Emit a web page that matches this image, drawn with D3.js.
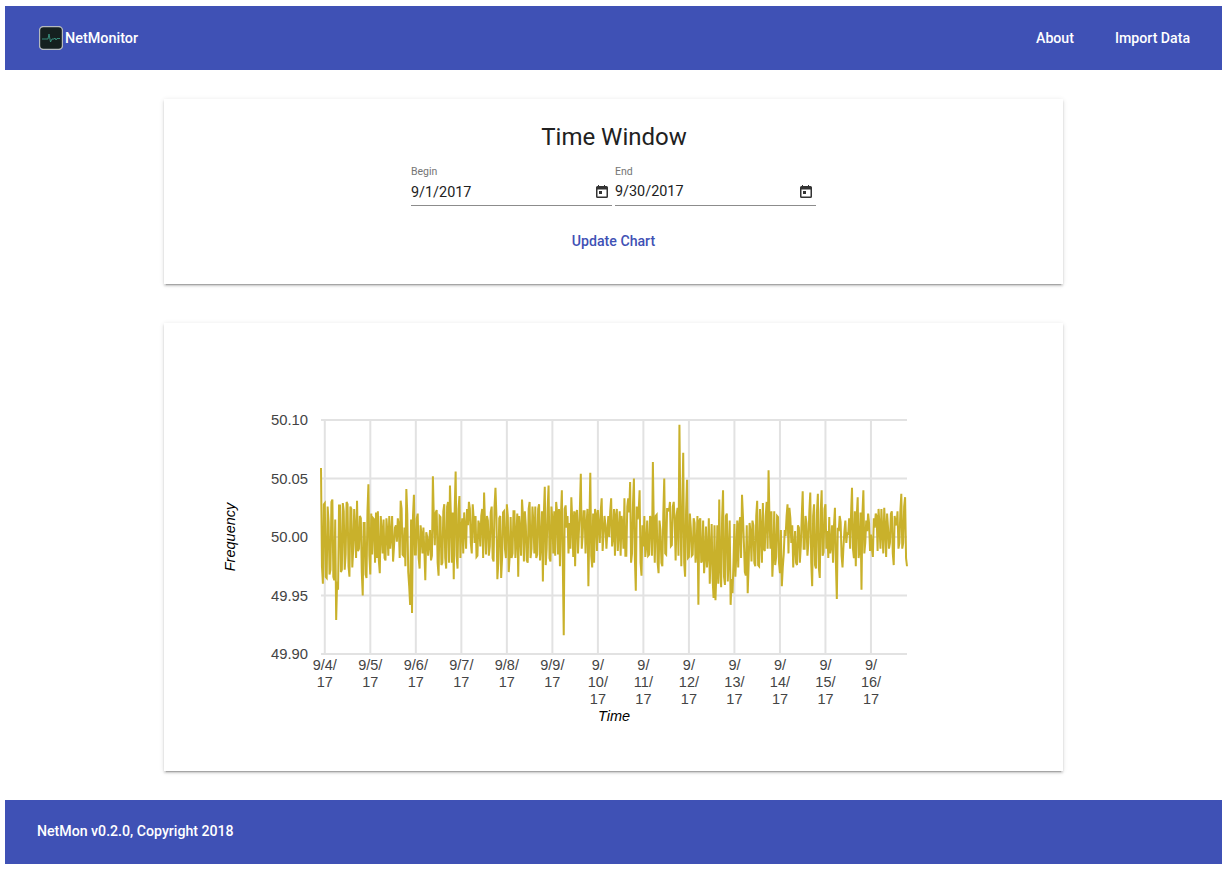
<!DOCTYPE html>
<html>
<head>
<meta charset="utf-8">
<title>NetMonitor</title>
<script src="https://cdn.jsdelivr.net/npm/d3@7"></script>
<style>
html, body { margin: 0; padding: 0; background: #fff; }
body { width: 1227px; height: 875px; position: relative; overflow: hidden; font-family: Roboto, sans-serif; }
.bar { position: absolute; left: 5px; width: 1217px; height: 64px; background: #3f51b5; color: #fff; font-weight: 500; font-size: 14.15px; }
.bar span { position: absolute; line-height: 20px; white-space: nowrap; }
.card { position: absolute; left: 164px; width: 899px; background: #fff;
  box-shadow: 0 2px 2px 0 rgba(0,0,0,.14), 0 3px 1px -2px rgba(0,0,0,.2), 0 1px 5px 0 rgba(0,0,0,.12); }
.title { position: absolute; left: 0.5px; width: 100%; top: 23px; text-align: center; font-size: 24px; line-height: 30px; color: #212121; }
.lbl { position: absolute; top: 67px; font-size: 10.5px; line-height: 12px; color: #757575; }
.val { position: absolute; font-size: 14.4px; line-height: 20px; color: #212121; }
.rule { position: absolute; top: 106px; width: 201px; height: 1px; background: #8c8c8c; }
.cal { position: absolute; top: 86px; }
.btn { position: absolute; left: 0; width: 100%; top: 132px; text-align: center; font-size: 14.15px; font-weight: 500; line-height: 20px; color: #3f51b5; }
.grid line, .grid path { stroke: #e2e2e2; stroke-width: 2px; }
.axis text { font-family: "Liberation Sans", Arial, sans-serif; font-size: 14.5px; fill: #444; }
.y-axis text { font-size: 14.8px; }
.axis-title { font-family: "Liberation Sans", Arial, sans-serif; font-size: 14.5px; font-style: italic; fill: #000; }
</style>
</head>
<body>
<div class="bar" style="top:6px">
  <svg id="logo" width="24" height="24" style="position:absolute;left:34px;top:20px"></svg>
  <span style="left:60px;top:23px;font-size:14.4px">NetMonitor</span>
  <span style="left:1031px;top:22px">About</span>
  <span style="left:1110px;top:22px">Import Data</span>
</div>
<div class="card" style="top:99px;height:185px">
  <div class="title">Time Window</div>
  <div class="lbl" style="left:247px">Begin</div>
  <div class="val" style="left:247px;top:84px">9/1/2017</div>
  <svg class="cal" style="left:431px" width="14" height="14"></svg>
  <div class="rule" style="left:247px"></div>
  <div class="lbl" style="left:451px">End</div>
  <div class="val" style="left:451px;top:83px">9/30/2017</div>
  <svg class="cal" style="left:635px" width="14" height="14"></svg>
  <div class="rule" style="left:451px"></div>
  <div class="btn">Update Chart</div>
</div>
<div class="card" style="top:323px;height:448px"></div>
<div class="bar" style="top:800px">
  <span style="left:32px;top:21px">NetMon v0.2.0, Copyright 2018</span>
</div>
<svg id="chart" width="1227" height="875" style="position:absolute;left:0;top:0"></svg>
<script>
// frequency on the hour, starting 9/3/17 22:00
var freqA = [
  50.059,49.960,50.029,49.965,50.013,49.972,50.032,49.963,49.929,49.955,
  50.027,49.972,50.022,49.985,50.028,49.966,50.024,49.990,50.005,50.031,
  49.990,50.016,49.950,50.012,49.965,50.045,49.968,49.985,50.015,50.021,
  50.022,49.969,50.005,50.015,49.980,50.004,50.018,50.002,49.979,50.008,
  49.996,50.010,50.031,49.985,50.008,50.041,49.970,49.942,49.935,50.036,
  49.985,50.020,49.973,50.002,50.008,49.963,50.000,49.995,49.980,50.052,
  49.993,50.023,49.967,50.017,49.978,50.028,49.973,50.030,50.044,49.978,
  49.964,50.056,49.973,50.035,50.008,49.986,50.008,50.024,50.030,49.995,
  50.028,49.995,49.983,50.014,49.992,50.024,50.038,49.985,50.014,49.992,
  50.026,49.979,50.042,49.964,50.016,49.965,50.021,49.990,50.028,49.970
];
var freqB = [
  50.017,49.986,50.022,50.000,49.966,50.005,50.032,49.979,50.010,49.978,
  50.030,49.990,50.012,50.026,49.985,50.028,49.995,49.962,50.043,49.990,
  50.044,49.979,50.015,50.022,50.030,49.985,49.975,50.040,49.916,50.027,
  50.018,50.012,50.034,49.983,49.975,50.023,50.005,50.054,50.002,50.022,
  50.010,49.958,50.055,49.974,49.978,50.019,50.023,49.995,50.033,50.003,
  50.010,50.005,50.000,50.033,50.000,49.984,50.024,50.005,49.984,50.010,
  50.033,49.984,50.033,50.047,49.986,50.050,49.954,50.015,50.040,49.967,
  49.992,49.983,50.014,49.985,50.015,50.064,49.978,50.019,49.969,50.006,
  49.975,50.050,49.985,50.024,50.030,49.993,50.030,49.980,50.025,50.096,
  49.975,50.072,49.966,50.049,49.983,50.008,49.985,50.012,49.990,49.942
];
var freqC = [
  50.016,49.980,49.969,50.009,49.985,49.960,50.011,49.948,49.946,50.010,
  50.032,49.957,50.040,49.959,50.020,49.985,49.942,49.952,50.011,49.985,
  49.974,50.017,50.036,49.995,49.967,49.952,50.012,49.979,50.010,49.975,
  50.031,49.975,50.005,50.029,49.988,50.030,50.057,49.990,49.966,50.022,
  49.983,50.017,49.969,49.958,49.985,50.001,50.028,50.025,49.995,49.974,
  50.005,49.976,50.008,49.992,50.039,49.990,50.012,49.995,50.038,49.958,
  50.028,49.973,50.037,49.965,50.040,49.987,50.028,50.005,50.017,49.992,
  49.978,50.025,49.947,50.005,50.013,49.974,50.005,49.995,50.002,49.990,
  50.042,49.982,49.975,50.034,49.990,49.955,50.040,49.995,50.005,50.012,
  50.002,49.983,50.008,50.018,50.024,49.990,50.005,50.025,49.983,50.008,
  49.995,50.022,49.976,50.012,50.022,49.995,50.037,49.995,50.034,49.975
];
// readings on the half hour, these fill up the solid band of the trace
var halfA = [
  49.975,50.028,49.966,50.026,49.968,50.030,49.966,50.015,49.962,50.027,
  49.970,50.029,49.972,50.030,49.975,50.026,49.974,50.024,49.982,49.988,
  50.018,49.970,50.012,49.968,50.022,49.984,50.020,50.016,49.978,49.982,
  49.980,50.018,49.986,49.982,50.016,49.984,49.990,50.018,49.992,50.010,
  50.016,49.982,50.024,49.984,49.975,50.020,49.958,50.015,50.018,49.985,
  50.016,49.982,50.010,49.986,49.988,50.004,49.984,50.006,49.984,50.016,
  50.021,49.978,50.018,49.976,50.022,49.982,50.026,49.978,50.018,50.021,
  50.024,49.984,50.024,49.982,50.016,50.021,49.990,50.010,50.024,49.986,
  50.016,50.018,49.984,50.010,50.018,49.982,50.010,50.018,49.984,50.021,
  49.982,50.026,50.018,49.978,50.018,49.982,50.022,49.982,50.018,49.984
];
var halfB = [
  49.982,50.022,49.982,50.020,50.018,49.984,50.018,50.022,49.980,50.024,
  49.982,50.026,49.986,49.982,50.024,49.980,50.022,50.020,49.976,50.024,
  49.982,50.026,49.986,49.984,50.021,50.024,50.018,49.978,50.024,50.008,
  49.986,49.990,50.014,50.022,50.020,49.986,50.024,49.990,50.022,49.986,
  50.024,50.010,49.984,50.020,50.024,49.988,50.010,50.022,49.988,50.018,
  49.990,50.018,50.022,49.992,50.024,50.018,49.988,50.022,50.018,49.990,
  49.984,50.026,50.021,49.978,50.028,49.982,50.026,50.022,49.978,50.010,
  50.018,49.992,49.984,50.018,49.984,50.008,50.018,49.978,50.014,49.978,
  50.020,49.986,50.024,50.022,49.992,50.026,50.014,50.018,49.984,50.021,
  50.024,49.978,50.022,49.982,50.020,49.984,50.016,49.978,50.018,50.014
];
var halfC = [
  49.978,50.014,49.984,49.974,50.016,49.988,49.964,50.010,49.970,49.960,
  49.974,50.016,49.966,50.018,49.962,50.014,49.964,49.978,49.966,50.014,
  50.010,49.982,50.018,49.970,50.010,49.976,50.004,50.014,49.978,50.018,
  49.976,50.024,49.978,49.990,50.018,49.990,50.014,50.022,49.984,49.976,
  50.018,49.978,50.006,49.974,50.006,50.018,49.986,50.016,50.010,49.992,
  49.978,50.010,49.978,50.018,49.990,50.018,49.984,50.022,49.978,50.018,
  49.976,50.021,49.974,50.022,49.984,50.024,49.990,49.982,49.986,50.010,
  50.010,49.978,50.008,50.018,49.984,49.992,50.014,50.004,50.016,50.020,
  49.990,50.022,50.018,49.982,50.021,50.020,49.986,50.014,50.020,49.988,
  49.990,50.016,50.020,49.988,50.010,50.024,49.986,50.008,50.020,49.990,
  50.020,49.986,50.018,50.010,49.990,50.022,49.990,50.026,49.982
];
var freqHourly = freqA.concat(freqB, freqC);
var freqHalfHour = halfA.concat(halfB, halfC);
var firstHour = new Date(2017, 8, 3, 22);
var tickDays = [4,5,6,7,8,9,10,11,12,13,14,15,16];
var yTicks = [49.90, 49.95, 50.00, 50.05, 50.10];

var margin = {top: 420, left: 321},
    width = 586,
    height = 234;

var data = [];
freqHourly.forEach(function(v, i){
    data.push({time: d3.timeMinute.offset(firstHour, i * 60), freq: v});
    if (i < freqHalfHour.length){
        data.push({time: d3.timeMinute.offset(firstHour, i * 60 + 30), freq: freqHalfHour[i]});
    }
});

var xScale = d3.scaleTime()
    .range([0, width])
    .domain(d3.extent(data, d=>d.time));
var yScale = d3.scaleLinear()
    .range([height, 0])
    .domain([49.90, 50.10]);

var svg = d3.select("#chart");
var svg_g = svg.append("g")
    .attr("transform", "translate(" + margin.left + "," + margin.top + ")");

//-GRID--------------------------------------------------------------------//
var xTicks = tickDays.map(d=>new Date(2017, 8, d));
var grid = svg_g.append("g").attr("class", "grid");
grid.selectAll("line.h").data(yTicks).enter().append("line")
    .attr("class", "h")
    .attr("x1", 0).attr("x2", width)
    .attr("y1", d=>yScale(d)).attr("y2", d=>yScale(d));
grid.selectAll("line.v").data(xTicks).enter().append("line")
    .attr("class", "v")
    .attr("x1", d=>xScale(d)).attr("x2", d=>xScale(d))
    .attr("y1", 0).attr("y2", height);

//-AXES--------------------------------------------------------------------//
var yAxis = d3.axisLeft(yScale)
    .tickValues(yTicks)
    .tickFormat(d3.format(".2f"))
    .tickSize(0)
    .tickPadding(13);
var svg_y_axis = svg_g.append("g").attr("class", "axis y-axis").call(yAxis);
svg_y_axis.select(".domain").remove();

var xAxis = d3.axisBottom(xScale)
    .tickValues(xTicks)
    .tickSize(0);
var svg_x_axis = svg_g.append("g")
    .attr("class", "axis x-axis")
    .attr("transform", "translate(0," + height + ")")
    .call(xAxis);
svg_x_axis.select(".domain").remove();

// labels wrap inside the narrow tick slot, two digit days get three rows
svg_x_axis.selectAll(".tick text").each(function(d){
    var day = d.getDate();
    var rows = day < 10 ? ["9/" + day + "/", "17"] : ["9/", day + "/", "17"];
    var t = d3.select(this).text(null).attr("y", 0).attr("dy", null);
    rows.forEach(function(r, i){
        t.append("tspan").attr("x", -0.5).attr("y", 16 + i * 17).text(r);
    });
});

svg_g.append("text").attr("class", "axis-title")
    .attr("x", 293).attr("y", 301)
    .attr("text-anchor", "middle")
    .text("Time");
svg_g.append("text").attr("class", "axis-title")
    .attr("transform", "translate(-86,117) rotate(-90)")
    .attr("text-anchor", "middle")
    .text("Frequency");

//-LINE--------------------------------------------------------------------//
var line = d3.line().x(d=>xScale(d.time)).y(d=>yScale(d.freq));
svg_g.append("path")
    .datum(data)
    .attr("d", line)
    .attr("fill", "none")
    .attr("stroke", "#c9b12b")
    .attr("stroke-width", 2);

//-ICONS-------------------------------------------------------------------//
var logo = d3.select("#logo");
logo.append("rect").attr("x", .5).attr("y", .5).attr("width", 23).attr("height", 23).attr("rx", 4)
    .attr("fill", "#15201f").attr("stroke", "#b4b9be").attr("stroke-width", 1.4);
logo.append("path").attr("d", "M3,13H9L10,8L11.5,16L13,13H15L16,12L17,14L18,12.5H21")
    .attr("fill", "none").attr("stroke", "#3fa58f").attr("stroke-width", .8);

d3.selectAll(".cal").each(function(){
    var c = d3.select(this);
    c.append("path").attr("fill", "#333").attr("fill-rule", "evenodd")
     .attr("d", "M3,0H4V1H9V0H10V1H11.5Q13,1 13,2.5V11.5Q13,13 11.5,13H2.5Q1,13 1,11.5V2.5Q1,1 2.5,1H3ZM2.5,4.5V11.5H11.5V4.5Z");
    c.append("rect").attr("x", 4).attr("y", 6).attr("width", 3).attr("height", 3).attr("fill", "#333");
});
</script>
</body>
</html>
